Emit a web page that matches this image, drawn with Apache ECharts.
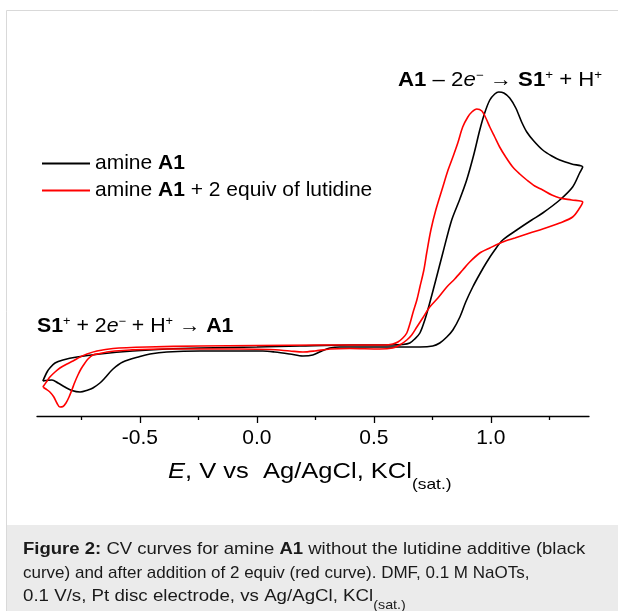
<!DOCTYPE html>
<html>
<head>
<meta charset="utf-8">
<script src="https://cdn.jsdelivr.net/npm/echarts@6/dist/echarts.min.js"></script>
<style>
html,body{margin:0;padding:0;background:#fff;}
#chart{width:618px;height:611px;}
</style>
</head>
<body>
<div id="chart"></div>
<script>
// ---- data: potential E (V vs Ag/AgCl) and current I (µA, arbitrary offset) ----
const seriesNames = ['amine A1', 'amine A1 + 2 equiv of lutidine'];

const blackE = [-0.915,-0.897,-0.885,-0.863,-0.829,-0.769,-0.671,-0.530,-0.385,-0.244,0.000,0.184,0.397,0.568,0.624,0.654,0.675,0.697,0.718,0.739,0.765,0.795,0.833,0.868,0.897,0.927,0.953,0.974,0.996,1.017,1.034,1.056,1.081,1.107,1.132,1.154,1.184,1.222,1.261,1.295,1.346,1.393,
  1.380,1.350,1.295,1.222,1.175,1.111,1.051,1.017,0.983,0.953,0.923,0.893,0.868,0.838,0.812,0.782,0.752,0.697,0.611,0.483,0.355,0.312,0.282,0.239,0.197,0.141,0.077,0.026,-0.115,-0.244,-0.385,-0.457,-0.500,-0.573,-0.615,-0.650,-0.671,-0.701,-0.722,-0.756,-0.791,-0.821,-0.850,-0.876,-0.915];
const blackI = [-3.5,-2.6,-2.2,-1.7,-1.4,-1.1,-0.8,-0.5,-0.3,-0.2,-0.1,0.0,0.1,0.1,0.15,0.3,0.7,1.3,2.6,4.3,6.6,9.3,12.6,14.7,16.6,19.1,21.6,23.3,24.6,25.2,25.4,25.3,24.8,23.8,22.4,21.4,20.5,19.6,19.0,18.6,18.2,17.9,
  17.3,15.9,14.6,13.3,12.6,11.6,10.6,9.6,8.4,7.2,5.9,4.4,2.9,1.6,0.9,0.3,0.0,-0.1,-0.1,-0.1,-0.1,-0.2,-0.45,-0.9,-1.0,-0.8,-0.6,-0.5,-0.5,-0.5,-0.6,-0.8,-1.05,-1.6,-2.3,-3.2,-3.7,-4.2,-4.4,-4.6,-4.45,-4.1,-3.7,-3.4,-3.5];

const redE = [-0.915,-0.897,-0.885,-0.863,-0.842,-0.812,-0.786,-0.756,-0.726,-0.684,-0.615,-0.470,-0.244,0.000,0.269,0.440,0.547,0.581,0.603,0.624,0.641,0.654,0.667,0.684,0.697,0.714,0.726,0.744,0.765,0.795,0.816,0.838,0.859,0.880,0.902,0.919,0.940,0.962,0.979,0.996,1.017,1.038,1.064,1.094,1.124,1.154,1.188,1.222,1.261,1.295,1.346,1.393,
  1.380,1.350,1.295,1.222,1.167,1.103,1.051,0.996,0.953,0.910,0.880,0.846,0.812,0.774,0.739,0.709,0.684,0.662,0.641,0.611,0.581,0.526,0.397,0.312,0.248,0.197,0.141,0.056,-0.073,-0.244,-0.402,-0.543,-0.607,-0.641,-0.671,-0.701,-0.722,-0.735,-0.752,-0.765,-0.778,-0.791,-0.803,-0.816,-0.829,-0.842,-0.855,-0.868,-0.885,-0.902,-0.915];
const redI = [-4.1,-3.5,-3.1,-2.6,-2.2,-1.8,-1.5,-1.1,-0.8,-0.5,-0.25,-0.1,0.0,0.05,0.1,0.1,0.1,0.2,0.4,0.8,1.3,2.2,3.3,4.6,5.9,7.6,9.3,11.6,13.6,15.9,17.5,18.9,20.3,21.9,22.9,23.4,23.7,23.5,22.8,21.9,20.9,19.9,18.9,17.9,17.2,16.6,16.0,15.6,15.1,14.8,14.6,14.4,
  13.8,12.9,12.3,11.7,11.3,10.8,10.4,9.8,9.3,8.4,7.6,6.7,5.9,4.8,3.9,2.8,1.9,1.1,0.6,0.1,-0.2,-0.3,-0.25,-0.3,-0.5,-0.6,-0.5,-0.35,-0.3,-0.3,-0.3,-0.4,-0.5,-0.6,-0.75,-0.9,-1.3,-1.7,-2.3,-2.9,-3.6,-4.4,-5.1,-5.7,-6.05,-6.1,-5.7,-5.1,-4.6,-4.3,-4.1];

const majorTicks = [-0.5, 0.0, 0.5, 1.0];
const minorTicks = [-0.75, -0.25, 0.25, 0.75, 1.25];

const FONT = 'Liberation Sans, Arial, sans-serif';
const zip = (xs, ys) => xs.map((x, i) => [x, ys[i]]);

const chart = echarts.init(document.getElementById('chart'), null, {renderer: 'canvas'});

function richSet(size, supSize) {
  return {
    n: {fontSize: size, fontFamily: FONT, fill: '#000', lineHeight: size + 2, verticalAlign: 'top'},
    i: {fontSize: size, fontFamily: FONT, fill: '#000', fontStyle: 'italic', lineHeight: size + 2, verticalAlign: 'top'},
    b: {fontSize: size, fontFamily: FONT, fill: '#000', fontWeight: 'bold', lineHeight: size + 2, verticalAlign: 'top'},
    s: {fontSize: supSize, fontFamily: FONT, fill: '#000', lineHeight: supSize, verticalAlign: 'top'}
  };
}
const capRich = {
  n: {fontSize: 17, fontFamily: FONT, fill: '#1a1a1a', lineHeight: 20, verticalAlign: 'top'},
  b: {fontSize: 17, fontFamily: FONT, fill: '#1a1a1a', fontWeight: 'bold', lineHeight: 20, verticalAlign: 'top'},
  sub: {fontSize: 13, fontFamily: FONT, fill: '#1a1a1a', lineHeight: 13, padding: [11, 0, 0, 0], verticalAlign: 'top'}
};

const option = {
  backgroundColor: '#ffffff',
  animation: false,
  grid: {left: 37, width: 552, top: 66, height: 350, containLabel: false},
  xAxis: [{
    type: 'value', min: -0.94, max: 1.42,
    axisLine: {show: true, onZero: false, lineStyle: {color: '#000', width: 1.3}},
    axisTick: {show: true, customValues: majorTicks, length: 7, lineStyle: {color: '#000', width: 1.3}},
    axisLabel: {customValues: majorTicks, formatter: v => v.toFixed(1), fontSize: 21, fontFamily: FONT, color: '#000', margin: 12},
    splitLine: {show: false}
  }, {
    type: 'value', min: -0.94, max: 1.42, position: 'bottom', gridIndex: 0,
    axisLine: {show: false, onZero: false},
    axisTick: {show: true, customValues: minorTicks, length: 4, lineStyle: {color: '#000', width: 1.3}},
    axisLabel: {show: false},
    splitLine: {show: false}
  }],
  yAxis: {type: 'value', min: -7, max: 28, show: false},
  legend: {
    orient: 'vertical', left: 42, top: 153, padding: 0, itemWidth: 48, itemHeight: 2, icon: 'rect', itemGap: 6,
    data: seriesNames,
    formatter: name => name === seriesNames[0] ? '{n|amine }{b|A1}' : '{n|amine }{b|A1}{n| + 2 equiv of lutidine}',
    textStyle: {
      fontSize: 21, fontFamily: FONT, color: '#000', lineHeight: 21,
      rich: {n: {fontSize: 21, fontFamily: FONT, color: '#000', lineHeight: 21},
             b: {fontSize: 21, fontFamily: FONT, color: '#000', fontWeight: 'bold', lineHeight: 21}}
    }
  },
  series: [{
    name: seriesNames[0], type: 'line', data: zip(blackE, blackI), xAxisIndex: 0,
    showSymbol: false, symbol: 'none', smooth: 0.3, color: '#000',
    lineStyle: {color: '#000', width: 1.6}
  }, {
    name: seriesNames[1], type: 'line', data: zip(redE, redI), xAxisIndex: 0,
    showSymbol: false, symbol: 'none', smooth: 0.3, color: '#ff0000',
    lineStyle: {color: '#ff0000', width: 1.6}
  }],
  graphic: [
    {type: 'rect', shape: {x: 6.5, y: 10.5, width: 620, height: 610}, style: {fill: 'none', stroke: '#d9d9d9', lineWidth: 1}, z: -1, silent: true},
    {type: 'rect', shape: {x: 7, y: 525, width: 611, height: 86}, style: {fill: '#ebebeb'}, z: -1, silent: true},
    // top annotation
    {type: 'text', x: 398, y: 70, scaleX: 1.11, style: {
      text: '{b|A1}{n| – 2}{i|e}{s|−}{n| → }{b|S1}{s|+}{n| + H}{s|+}',
      verticalAlign: 'top', align: 'left', rich: richSet(20, 12)}},
    // bottom-left annotation
    {type: 'text', x: 37, y: 316, scaleX: 1.065, style: {
      text: '{b|S1}{s|+}{n| + 2}{i|e}{s|−}{n| + H}{s|+}{n| → }{b|A1}',
      verticalAlign: 'top', align: 'left', rich: richSet(20, 12)}},
    // axis title
    {type: 'text', x: 168, y: 461, scaleX: 1.16, style: {
      text: '{i|E}{n|, V vs  Ag/AgCl, KCl}{sub|(sat.)}',
      verticalAlign: 'top', align: 'left',
      rich: {
        n: {fontSize: 22, fontFamily: FONT, fill: '#000', lineHeight: 24, verticalAlign: 'top'},
        i: {fontSize: 22, fontFamily: FONT, fill: '#000', fontStyle: 'italic', lineHeight: 24, verticalAlign: 'top'},
        sub: {fontSize: 15, fontFamily: FONT, fill: '#000', lineHeight: 15, padding: [16, 0, 0, 0], verticalAlign: 'top'}
      }}},
    // caption
    {type: 'text', x: 23, y: 541, scaleX: 1.09, style: {
      text: '{b|Figure 2:}{n| CV curves for amine }{b|A1}{n| without the lutidine additive (black}',
      verticalAlign: 'top', align: 'left', rich: capRich}},
    {type: 'text', x: 23, y: 565, scaleX: 1.0, style: {
      text: '{n|curve) and after addition of 2 equiv (red curve). DMF, 0.1 M NaOTs,}',
      verticalAlign: 'top', align: 'left', rich: capRich}},
    {type: 'text', x: 23, y: 588, scaleX: 1.1, style: {
      text: '{n|0.1 V/s, Pt disc electrode, vs Ag/AgCl, KCl}{sub|(sat.)}',
      verticalAlign: 'top', align: 'left', rich: capRich}}
  ]
};
chart.setOption(option);
</script>
</body>
</html>
